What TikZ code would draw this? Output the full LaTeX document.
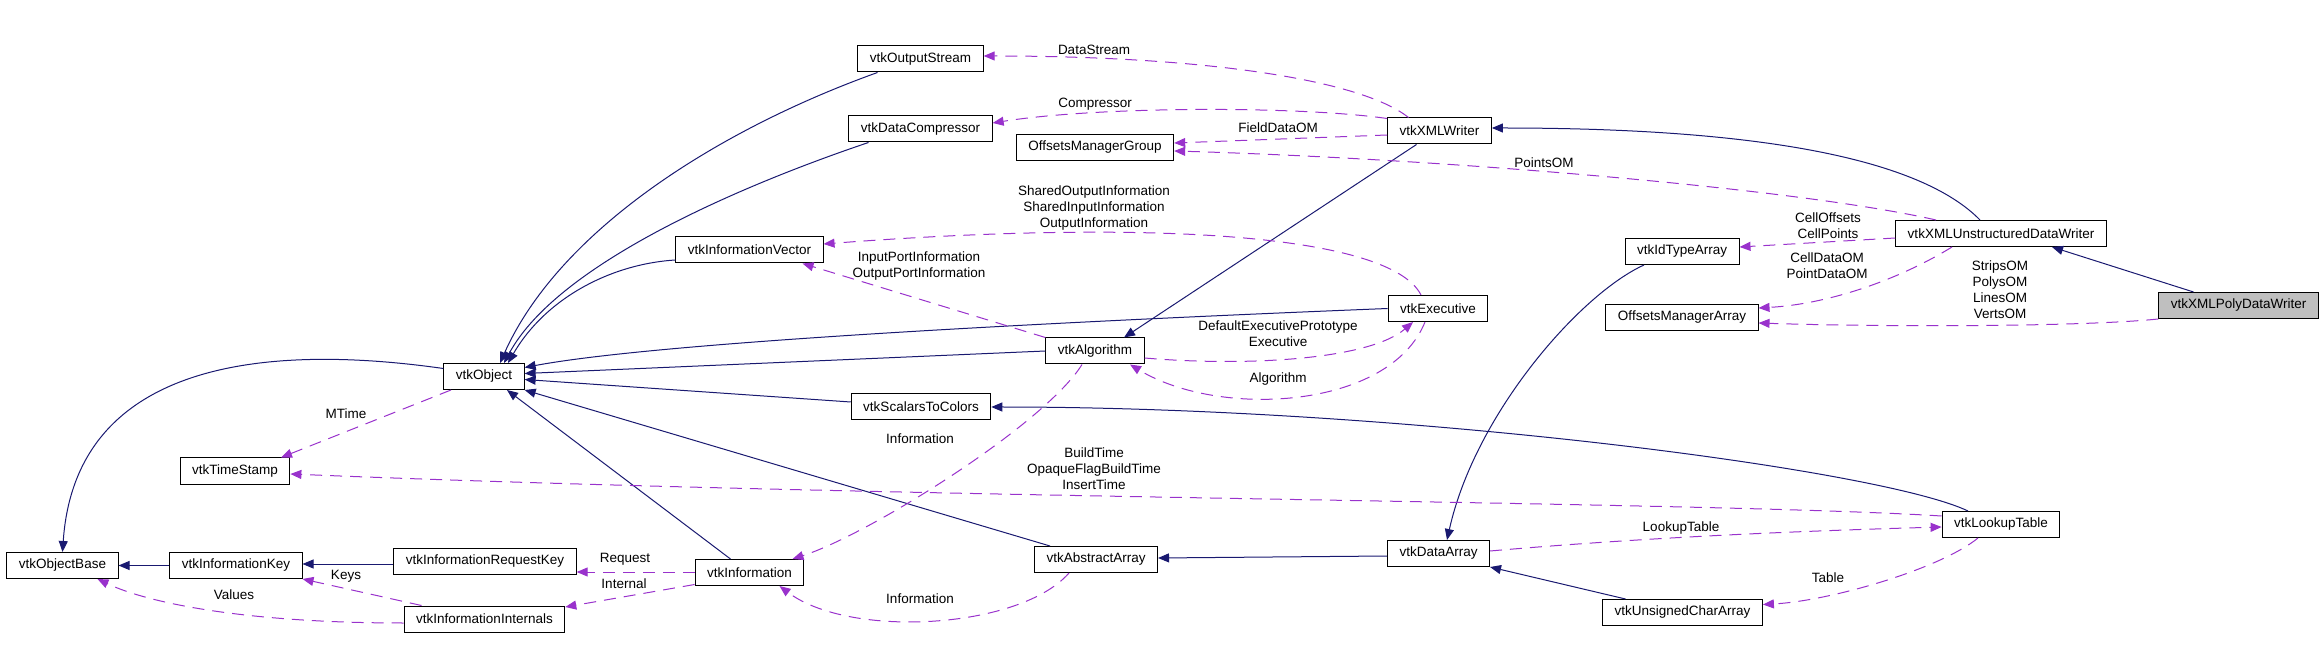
\documentclass[tikz,border=0pt]{standalone}
\usepackage{fontspec}
\setmainfont{Liberation Sans}
\usetikzlibrary{arrows.meta}
\definecolor{inhcol}{RGB}{25,25,112}
\definecolor{usecol}{RGB}{153,50,204}
\begin{document}
\begin{tikzpicture}[x=1pt,y=1pt]
            \tikzset{
                classbox/.style={draw,line width=1pt,inner xsep=12pt,minimum height=26pt,font=\fontsize{13.5}{16}\selectfont},
                edgelabel/.style={align=center,inner sep=0pt,font=\fontsize{13.5}{16}\selectfont},
                inherit/.style={inhcol,line width=1pt,-{Triangle[length=11pt,width=9pt]}},
                member/.style={usecol,line width=1pt,dash pattern=on 12pt off 8pt,-{Triangle[length=11pt,width=9pt]}},}
            \useasboundingbox (0,0) rectangle (2323,659);
            % classes
            \node[classbox,fill=black!25] (pdw) at (2238.5,353.5) {vtkXMLPolyDataWriter};
            \node[classbox] (udw) at (2001,425.5) {vtkXMLUnstructuredDataWriter};
            \node[classbox] (xmlw) at (1439.5,528) {vtkXMLWriter};
            \node[classbox] (ostream) at (920.5,600) {vtkOutputStream};
            \node[classbox] (compr) at (920.5,530) {vtkDataCompressor};
            \node[classbox] (omg) at (1095,511.5) {OffsetsManagerGroup};
            \node[classbox] (infovec) at (749.5,409) {vtkInformationVector};
            \node[classbox] (exec) at (1438,350.5) {vtkExecutive};
            \node[classbox] (algo) at (1095,308) {vtkAlgorithm};
            \node[classbox] (obj) at (484,282.5) {vtkObject};
            \node[classbox] (s2c) at (921,252) {vtkScalarsToColors};
            \node[classbox] (tstamp) at (235,188) {vtkTimeStamp};
            \node[classbox] (objbase) at (62.5,93.5) {vtkObjectBase};
            \node[classbox] (infokey) at (236,93.5) {vtkInformationKey};
            \node[classbox] (reqkey) at (485,98) {vtkInformationRequestKey};
            \node[classbox] (internals) at (484.5,40) {vtkInformationInternals};
            \node[classbox] (info) at (749.5,86.5) {vtkInformation};
            \node[classbox] (absarr) at (1096,99.5) {vtkAbstractArray};
            \node[classbox] (darr) at (1438.5,105.5) {vtkDataArray};
            \node[classbox] (ucarr) at (1682.5,46.5) {vtkUnsignedCharArray};
            \node[classbox] (lut) at (2001,134.5) {vtkLookupTable};
            \node[classbox] (idarr) at (1682,407.5) {vtkIdTypeArray};
            \node[classbox] (oma) at (1682,341.5) {OffsetsManagerArray};
            % inheritance
            \draw[inherit] ([xshift=-45]pdw.north) -- ([xshift=51]udw.south);
            \draw[inherit] ([xshift=-21]udw.north) .. controls (1930,490) and (1800,531) .. ([yshift=3]xmlw.east);
            \draw[inherit] ([xshift=-23]xmlw.south) -- ([xshift=29]algo.north);
            \draw[inherit] ([xshift=-43]ostream.south) .. controls (720,530) and (560,430) .. ([xshift=16]obj.north);
            \draw[inherit] ([xshift=-52]compr.south) .. controls (760,480) and (560,400) .. ([xshift=20]obj.north);
            \draw[inherit] ([yshift=-10]infovec.west) .. controls (610,395) and (545,360) .. ([xshift=24]obj.north);
            \draw[inherit] (exec.west) .. controls (1000,335) and (650,315) .. ([yshift=9]obj.east);
            \draw[inherit] (algo.west) -- ([yshift=3]obj.east);
            \draw[inherit] ([yshift=5]s2c.west) -- ([yshift=-3]obj.east);
            \draw[inherit] ([xshift=-46]absarr.north) -- (obj.south east);
            \draw[inherit] ([xshift=-19]info.north) -- ([xshift=23]obj.south);
            \draw[inherit] ([yshift=8]obj.west) .. controls (250,318) and (75,290) .. (objbase.north);
            \draw[inherit] (infokey.west) -- (objbase.east);
            \draw[inherit] ([yshift=-3]reqkey.west) -- ([yshift=1.5]infokey.east);
            \draw[inherit] ([xshift=-33]lut.north) .. controls (1880,190) and (1400,252) .. (s2c.east);
            \draw[inherit] ([yshift=-2.5]darr.west) -- ([yshift=1.5]absarr.east);
            \draw[inherit] ([xshift=-57]ucarr.north) -- (darr.south east);
            \draw[inherit] ([xshift=-38]idarr.south) .. controls (1580,365) and (1475,245) .. ([xshift=8.5]darr.north);
            % members
            \draw[member] ([xshift=-31]xmlw.north) .. controls (1360,580) and (1200,603) .. ([yshift=3]ostream.east);
            \draw[member] ([yshift=-1]xmlw.north west) .. controls (1300,553) and (1100,553) .. ([yshift=6]compr.east);
            \draw[member] ([yshift=-4]xmlw.west) -- ([yshift=4.5]omg.east);
            \draw[member] ([xshift=-65]udw.north) .. controls (1800,470) and (1450,500) .. ([yshift=-3.5]omg.east);
            \draw[member] ([yshift=-4.5]udw.west) -- ([yshift=4.5]idarr.east);
            \draw[member] ([xshift=-49]udw.south) .. controls (1900,380) and (1830,355) .. ([yshift=9.5]oma.east);
            \draw[member] (pdw.south west) .. controls (2080,332) and (1880,332) .. ([yshift=-5.5]oma.east);
            \draw[member] ([xshift=-17]exec.north) .. controls (1390,425) and (1150,440) .. ([yshift=6]infovec.east);
            \draw[member] (algo.north west) -- ([xshift=53]infovec.south);
            \draw[member] ([yshift=-7]algo.east) .. controls (1250,292) and (1370,300) .. ([xshift=-25]exec.south);
            \draw[member] ([xshift=-13]exec.south) .. controls (1390,250) and (1220,240) .. ([xshift=35]algo.south);
            \draw[member] ([xshift=-13]algo.south) .. controls (1045,235) and (870,125) .. ([xshift=43]info.north);
            \draw[member] ([xshift=-33]obj.south) -- ([xshift=46]tstamp.north);
            \draw[member] ([yshift=8.5]lut.west) .. controls (1700,158) and (900,160) .. ([yshift=-3]tstamp.east);
            \draw[member] ([yshift=2.5]darr.east) .. controls (1650,122) and (1800,128) .. ([yshift=-2.5]lut.west);
            \draw[member] ([xshift=-23]lut.south) .. controls (1940,90) and (1830,58) .. ([yshift=8]ucarr.east);
            \draw[member] ([xshift=-27]absarr.south) .. controls (1020,30) and (850,20) .. ([xshift=30]info.south);
            \draw[member] ([yshift=0.5]info.west) -- ([yshift=-11]reqkey.east);
            \draw[member] ([yshift=-12]info.west) -- ([yshift=12]internals.east);
            \draw[member] ([xshift=-63]internals.north) -- (infokey.south east);
            \draw[member] ([yshift=-4]internals.west) .. controls (250,36) and (150,55) .. ([xshift=35]objbase.south);
            % member names
            \node[edgelabel] (lstream) at (1094,609) {DataStream};
            \node[edgelabel] (lcompr) at (1095,555) {Compressor};
            \node[edgelabel] (lfield) at (1278,531) {FieldDataOM};
            \node[edgelabel] (lpoints) at (1544,496) {PointsOM};
            \node[edgelabel] (lcells) at (1828,433) {CellOffsets\\CellPoints};
            \node[edgelabel] (lcelldata) at (1827,393) {CellDataOM\\PointDataOM};
            \node[edgelabel] (lverts) at (2000,369) {StripsOM\\PolysOM\\LinesOM\\VertsOM};
            \node[edgelabel] (lshared) at (1094,451) {SharedOutputInformation\\SharedInputInformation\\OutputInformation};
            \node[edgelabel] (lports) at (919,393) {InputPortInformation\\OutputPortInformation};
            \node[edgelabel] (lexec) at (1278,325) {DefaultExecutivePrototype\\Executive};
            \node[edgelabel] (lalgo) at (1278,280) {Algorithm};
            \node[edgelabel] (linfoa) at (920,220) {Information};
            \node[edgelabel] (lmtime) at (346,245) {MTime};
            \node[edgelabel] (lbuild) at (1094,190) {BuildTime\\OpaqueFlagBuildTime\\InsertTime};
            \node[edgelabel] (llut) at (1681,131) {LookupTable};
            \node[edgelabel] (ltable) at (1828,81) {Table};
            \node[edgelabel] (linfob) at (920,60) {Information};
            \node[edgelabel] (lrequest) at (625,100) {Request};
            \node[edgelabel] (linternal) at (624,75) {Internal};
            \node[edgelabel] (lkeys) at (346,83) {Keys};
            \node[edgelabel] (lvalues) at (234,64) {Values};
\end{tikzpicture}
\end{document}
